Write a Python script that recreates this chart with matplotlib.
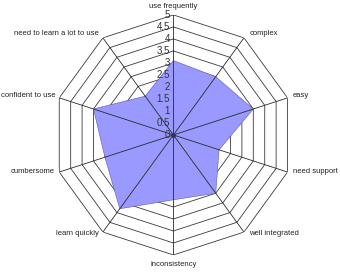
import numpy as np
import matplotlib
matplotlib.use("Agg")
import matplotlib.pyplot as plt

# survey categories, clockwise from the top
categories = ["use frequently", "complex", "easy", "need support", "well integrated",
              "inconsistency", "learn quickly", "cumbersome", "confident to use",
              "need to learn a lot to use"]
scores = [3.1, 3.0, 3.5, 2.0, 3.0, 2.7, 3.8, 3.0, 3.5, 2.0]
ring_values = [0, 0.5, 1, 1.5, 2, 2.5, 3, 3.5, 4, 4.5, 5]
ring_labels = ["0", "0.5", "1", "1.5", "2", "2.5", "3", "3.5", "4", "4.5", "5"]

plt.rcParams['font.family'] = ['Liberation Sans', 'DejaVu Sans']

n = len(categories)
theta = np.linspace(0, 2 * np.pi, n, endpoint=False)
theta_c = np.append(theta, theta[0])
scores_c = np.append(scores, scores[0])

fig = plt.figure(figsize=(3.4, 2.76), dpi=100)
ax = fig.add_axes([0.157, 0.076, 0.706, 0.870], projection="polar")
ax.set_theta_zero_location("N")
ax.set_theta_direction(-1)
ax.set_ylim(0, ring_values[-1])
ax.grid(False)
ax.spines["polar"].set_visible(False)
ax.set_xticks([])
ax.set_yticks([])
ax.patch.set_visible(False)

# decagon rings
for r in ring_values[1:]:
    ax.plot(theta_c, [r] * (n + 1), color="#3a3a3a", lw=0.6, zorder=1)

# filled series
ax.fill(theta_c, scores_c, facecolor="#9999ff", edgecolor="#5a5aa8", lw=0.4, zorder=2)

# spokes
for t in theta:
    ax.plot([t, t], [0, ring_values[-1]], color="#2a2a2a", lw=0.6, zorder=3)
ax.plot([0], [0], marker="o", ms=2.5, color="#333355", zorder=4)

# radial tick labels along the top spoke
for r, lab in zip(ring_values, ring_labels):
    ax.annotate(lab, xy=(0, r), xytext=(-2.5, 0), textcoords="offset points",
                ha="right", va="center", fontsize=7, color="#333333", zorder=5)

# category labels
for t, lab in zip(theta, categories):
    s, c = np.sin(t), np.cos(t)
    if abs(s) < 0.01:
        ha = "center"
        off = (0, 6 if c > 0 else -7)
    elif s > 0:
        ha = "left"
        off = (4, 2.5 * c + 1)
    else:
        ha = "right"
        off = (-3, 2.5 * c + 1)
    ax.annotate(lab, xy=(t, ring_values[-1]), xytext=off, textcoords="offset points",
                ha=ha, va="center", fontsize=5.5, color="#222222",
                annotation_clip=False)

fig.savefig("out.png", dpi=100)
